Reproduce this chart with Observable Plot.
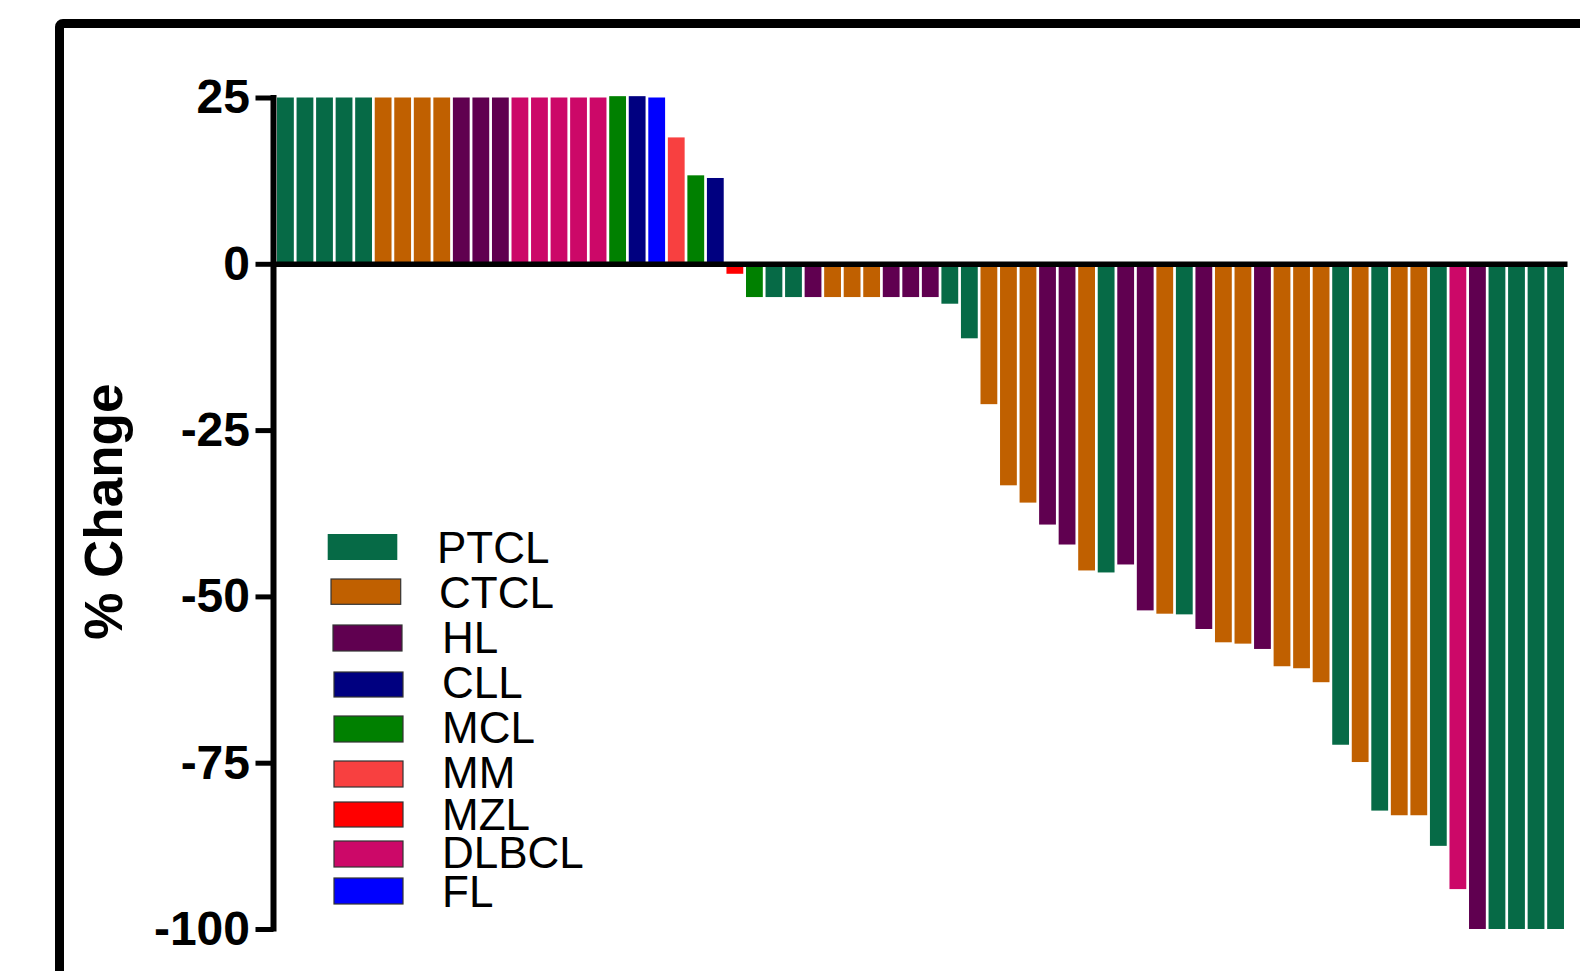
<!DOCTYPE html>
<html><head><meta charset="utf-8">
<script src="https://cdn.jsdelivr.net/npm/d3@7"></script>
<script src="https://cdn.jsdelivr.net/npm/@observablehq/plot@0.6"></script>
<style>
html,body{margin:0;padding:0;background:#fff;}
#wrap{position:relative;width:1580px;height:971px;overflow:hidden;font-family:"Liberation Sans",Arial,sans-serif;}
#frame{position:absolute;left:55px;top:19px;width:3000px;height:3000px;border:9px solid #000;border-radius:8px;box-sizing:border-box;}
#chart{position:absolute;left:0;top:0;}
#legend{position:absolute;left:0;top:0;}
</style></head><body>
<div id="wrap"><div id="frame"></div><div id="chart"></div><svg id="legend" width="1580" height="971"></svg></div>
<script>
// Subtypes (legend order) and colours
const subtypes = ["PTCL","CTCL","HL","CLL","MCL","MM","MZL","DLBCL","FL"];
const subtypeColors = ["#066a46","#c06000","#600050","#000080","#008000","#f84040","#ff0000","#cc0868","#0000ff"];

// One entry per patient bar, left to right
const barType = [
  "PTCL","PTCL","PTCL","PTCL","PTCL",
  "CTCL","CTCL","CTCL","CTCL",
  "HL","HL","HL",
  "DLBCL","DLBCL","DLBCL","DLBCL","DLBCL",
  "MCL","CLL","FL","MM","MCL","CLL",
  "MZL",
  "MCL","PTCL","PTCL","HL","CTCL","CTCL","CTCL","HL","HL","HL",
  "PTCL","PTCL","CTCL","CTCL","CTCL","HL","HL","CTCL","PTCL","HL",
  "HL","CTCL","PTCL","HL","CTCL","CTCL","HL","CTCL","CTCL","CTCL",
  "PTCL","CTCL","PTCL","CTCL","CTCL","PTCL","DLBCL","HL",
  "PTCL","PTCL","PTCL","PTCL"
];
const barChange = [
  25,25,25,25,25,
  25,25,25,25,
  25,25,25,
  25,25,25,25,25,
  25.2,25.2,25,19,13.3,12.9,
  -1.5,
  -5,-5,-5,-5,-5,-5,-5,-5,-5,-5,
  -6,-11.2,-21.1,-33.3,-35.9,-39.2,-42.2,-46.1,-46.4,-45.2,
  -52.1,-52.6,-52.7,-54.9,-56.9,-57.1,-57.9,-60.5,-60.8,-62.9,
  -72.3,-74.9,-82.2,-82.9,-82.9,-87.5,-94,-100,
  -100,-100,-100,-100
];
const yTicks = [25,0,-25,-50,-75,-100];
const yTickLabels = ["25","0","-25","-50","-75","-100"];
const yLabel = "% Change";

const data = barType.map((t, i) => ({i, type: t, value: barChange[i]}));

const yAxisLine = (index, scales, values, dimensions) => {
  const {marginLeft} = dimensions;
  const line = d3.create("svg:line")
    .attr("x1", marginLeft).attr("x2", marginLeft)
    .attr("y1", scales.y(25) - 2.5).attr("y2", scales.y(-100) + 2.5)
    .attr("stroke", "#000").attr("stroke-width", 6);
  return line.node();
};

const chart = Plot.plot({
  width: 1580, height: 971,
  marginLeft: 273.5, marginRight: 12.5, marginTop: 97.5, marginBottom: 42,
  style: {fontFamily: "Liberation Sans, Arial, sans-serif", fontWeight: "bold", background: "transparent", overflow: "visible", color: "#000"},
  x: {type: "band", domain: d3.range(barType.length), paddingInner: 0.14, paddingOuter: 0.18, axis: null},
  y: {domain: [-100, 25], axis: null, label: null},
  color: {domain: subtypes, range: subtypeColors},
  marks: [
    Plot.barY(data, {x: "i", y: "value", fill: "type"}),
    Plot.ruleY([0], {strokeWidth: 5.5, stroke: "#000"}),
    yAxisLine,
    Plot.axisY(yTicks, {anchor: "left", label: null, tickSize: 18, strokeWidth: 5, tickPadding: 6, fontSize: 48, fontWeight: "bold", stroke: "#000", fill: "#000",
      tickFormat: d => yTickLabels[yTicks.indexOf(d)]}),
    Plot.text([yLabel], {text: d => d, frameAnchor: "left", textAnchor: "middle", rotate: -90, dx: -169, dy: -2, fontSize: 53, fontWeight: "bold", fill: "#000"})
  ]
});
document.getElementById("chart").appendChild(chart);

// Legend (layout only)
const legendRows = [
  {x1: 327.7, x2: 397.3, y1: 534, y2: 560, tx: 437, base: 563, border: false},
  {x1: 331, x2: 400.7, y1: 579, y2: 604.3, tx: 439, base: 608, border: true},
  {x1: 333, x2: 402, y1: 625, y2: 651, tx: 442, base: 653, border: true},
  {x1: 334, x2: 403, y1: 672, y2: 697, tx: 442, base: 698, border: true},
  {x1: 334, x2: 403, y1: 716, y2: 742, tx: 442, base: 743, border: true},
  {x1: 334, x2: 403, y1: 761, y2: 787, tx: 442, base: 788, border: true},
  {x1: 334, x2: 403, y1: 802, y2: 827, tx: 442, base: 830, border: true},
  {x1: 334, x2: 403, y1: 841, y2: 867, tx: 442, base: 868, border: true},
  {x1: 334, x2: 403, y1: 878, y2: 904, tx: 442, base: 907, border: true}
];
const leg = d3.select("#legend");
subtypes.forEach((s, k) => {
  const r = legendRows[k];
  leg.append("rect").attr("x", r.x1).attr("y", r.y1).attr("width", r.x2 - r.x1).attr("height", r.y2 - r.y1)
    .attr("fill", subtypeColors[k]).attr("stroke", r.border ? "#333" : "none").attr("stroke-width", 1.2);
  leg.append("text").attr("x", r.tx).attr("y", r.base).text(s)
    .attr("font-family", "Liberation Sans, Arial, sans-serif").attr("font-size", 44).attr("fill", "#000");
});
</script>
</body></html>
